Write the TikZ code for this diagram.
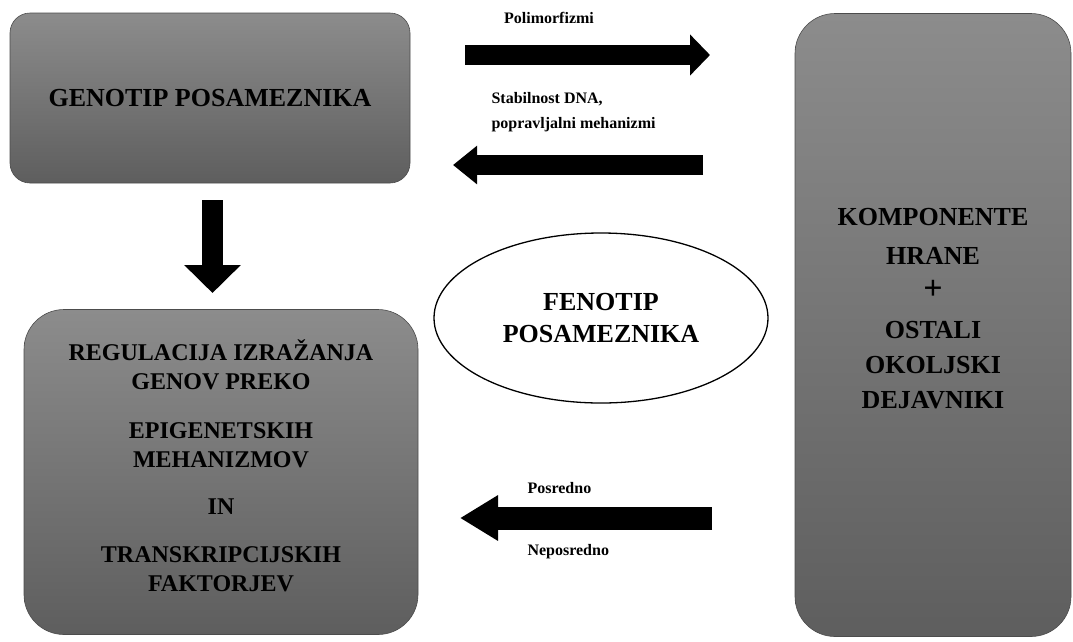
\documentclass[tikz,border=0pt]{standalone}
\usepackage{fontspec}
\setmainfont{Liberation Serif}
\usetikzlibrary{arrows.meta,shapes.geometric}

\definecolor{boxtop}{RGB}{140,140,140}
\definecolor{boxbot}{RGB}{94,94,94}

\tikzset{
  graybox/.style={draw=black!70,line width=0.6pt,top color=boxtop,bottom color=boxbot,
    rounded corners=#1},
  boxtext/.style={font=\bfseries\fontsize{26}{30}\selectfont,align=center},
  smalltext/.style={font=\bfseries\fontsize{16}{25}\selectfont,align=left},
  blockarrow/.style={line width=#1,draw=black}
}

\begin{document}
\begin{tikzpicture}[x=1pt,y=-1pt]
    \useasboundingbox (0,0) rectangle (1073,641);
    \begin{scope}
      \node[graybox=20pt,minimum width=400pt,minimum height=170pt] (genotip) at (210,98) {};
      \node[graybox=40pt,minimum width=394pt,minimum height=325pt] (regulacija) at (221,472) {};
      \node[graybox=40pt,minimum width=276pt,minimum height=623pt] (okolje) at (933,325) {};
      \node[ellipse,draw,line width=1.3pt,minimum width=334pt,minimum height=170pt] (fenotip) at (601,318) {};

      \node[boxtext] (genotiptxt) at (genotip) {GENOTIP POSAMEZNIKA};
      \node[boxtext,font=\bfseries\fontsize{24}{29}\selectfont] (regulacijatxt) at (221,466)
        {REGULACIJA IZRAŽANJA\\GENOV PREKO\\[20pt]EPIGENETSKIH\\MEHANIZMOV\\[18pt]IN\\[19pt]TRANSKRIPCIJSKIH\\FAKTORJEV};
      \node[boxtext,font=\bfseries\fontsize{26}{35}\selectfont] (okoljetxt) at (933,309)
        {KOMPONENTE\\[4pt]HRANE\\{\fontsize{34}{35}\selectfont +}\\[4pt]OSTALI\\OKOLJSKI\\DEJAVNIKI};
      \node[boxtext,font=\bfseries\fontsize{26}{32}\selectfont] (fenotiptxt) at (fenotip) {FENOTIP\\POSAMEZNIKA};

      \coordinate (p1) at (465,55);  \coordinate (p2) at (710,55);
      \coordinate (s1) at (703,165); \coordinate (s2) at (453,165);
      \coordinate (n1) at (712,518); \coordinate (n2) at (460,518);
      \coordinate (d1) at (212.5,200); \coordinate (d2) at (212.5,293);

      \draw[blockarrow=20pt,-{Triangle[length=20pt,width=40pt]}] (p1) -- (p2);
      \draw[blockarrow=20pt,-{Triangle[length=24pt,width=37pt]}] (s1) -- (s2);
      \draw[blockarrow=23pt,-{Triangle[length=38pt,width=43pt]}] (n1) -- (n2);
      \draw[blockarrow=21pt,-{Triangle[length=28pt,width=55pt]}] (d1) -- (d2);

      \node[smalltext] (polimorfizmi) at (549,18) {Polimorfizmi};
      \node[smalltext,anchor=west] (stabilnost) at (488,112) {Stabilnost DNA,\\popravljalni mehanizmi};
      \node[smalltext,anchor=west] (posredno) at (524,488) {Posredno};
      \node[smalltext,anchor=west] (neposredno) at (524,552) {Neposredno};
    \end{scope}
  \end{tikzpicture}
\end{document}
